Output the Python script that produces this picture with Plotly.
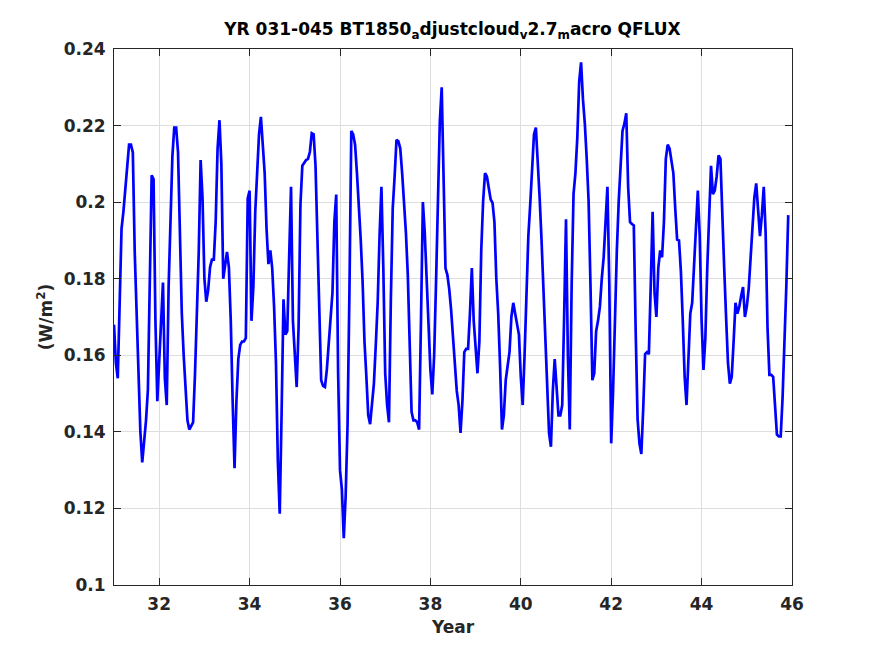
import numpy as np
import plotly.graph_objects as go

# QFLUX, 24 samples per year starting at year 31
start_year = 31.0
steps_per_year = 24
qflux = [
    0.168, 0.158, 0.154, 0.172, 0.193, 0.1975, 0.204, 0.2105, 0.215, 0.215,
    0.213, 0.187, 0.171, 0.155, 0.140, 0.132, 0.137, 0.143, 0.151, 0.180,
    0.207, 0.206, 0.169, 0.148, 0.159, 0.172, 0.179, 0.154, 0.147, 0.178,
    0.195, 0.212, 0.2195, 0.2195, 0.213, 0.191, 0.171, 0.160, 0.151, 0.143,
    0.1406, 0.1415, 0.1425, 0.155, 0.169, 0.187, 0.211, 0.201, 0.180, 0.174,
    0.177, 0.183, 0.185, 0.185, 0.195, 0.214, 0.2214, 0.210, 0.180, 0.184,
    0.187, 0.183, 0.169, 0.148, 0.1305, 0.148, 0.159, 0.1627, 0.1636, 0.1636,
    0.1645, 0.201, 0.203, 0.169, 0.178, 0.1975, 0.2085, 0.2177, 0.2223, 0.216,
    0.2076, 0.193, 0.1838, 0.1874, 0.1828, 0.1727, 0.158, 0.1324, 0.1186, 0.1452,
    0.1746, 0.1654, 0.1663, 0.1856, 0.204, 0.169, 0.160, 0.1517, 0.1672, 0.1994,
    0.2095, 0.2104, 0.211, 0.2113, 0.2131, 0.218, 0.2177, 0.2095, 0.1911, 0.1727,
    0.1535, 0.152, 0.1517, 0.1562, 0.1636, 0.170, 0.1764, 0.1948, 0.202, 0.1553,
    0.130, 0.125, 0.1122, 0.1232, 0.1416, 0.1764, 0.2186, 0.2177, 0.215, 0.2076,
    0.2003, 0.1902, 0.1792, 0.1636, 0.1544, 0.1443, 0.142, 0.148, 0.1526, 0.1627,
    0.1737, 0.1911, 0.204, 0.1828, 0.1553, 0.1471, 0.1425, 0.1746, 0.1984, 0.2067,
    0.2163, 0.2159, 0.214, 0.2076, 0.2003, 0.192, 0.181, 0.1617, 0.1452, 0.143,
    0.143, 0.1425, 0.1406, 0.169, 0.200, 0.192, 0.180, 0.169, 0.1562, 0.1498,
    0.160, 0.1792, 0.2003, 0.221, 0.2300, 0.2012, 0.1828, 0.181, 0.1773, 0.1718,
    0.1645, 0.158, 0.1507, 0.147, 0.1397, 0.148, 0.1608, 0.1617, 0.1617, 0.1709,
    0.1828, 0.169, 0.1627, 0.1553, 0.1636, 0.1874, 0.2003, 0.2076, 0.2067, 0.203,
    0.2007, 0.1998, 0.1948, 0.180, 0.1709, 0.1572, 0.1406, 0.1443, 0.1535, 0.1572,
    0.1608, 0.170, 0.1737, 0.1709, 0.1682, 0.1654, 0.1544, 0.147, 0.160, 0.1783,
    0.1911, 0.1994, 0.2104, 0.2177, 0.2195, 0.2113, 0.2012, 0.1902, 0.1783, 0.1672,
    0.1526, 0.1397, 0.1361, 0.1507, 0.159, 0.1517, 0.1443, 0.1443, 0.147, 0.170,
    0.1955, 0.160, 0.1406, 0.1783, 0.2021, 0.2076, 0.2168, 0.2315, 0.2365, 0.2269,
    0.2205, 0.2113, 0.2003, 0.1783, 0.1535, 0.1553, 0.1663, 0.169, 0.1727, 0.180,
    0.1856, 0.1948, 0.204, 0.1783, 0.137, 0.1507, 0.1727, 0.1874, 0.2003, 0.2095,
    0.2186, 0.2205, 0.2232, 0.204, 0.1948, 0.1943, 0.1939, 0.1663, 0.1434, 0.137,
    0.1342, 0.1461, 0.1603, 0.1608, 0.1603, 0.1783, 0.1975, 0.1764, 0.170, 0.1828,
    0.1874, 0.1856, 0.1948, 0.2113, 0.215, 0.214, 0.2113, 0.2076, 0.1984, 0.1902,
    0.190, 0.182, 0.169, 0.1544, 0.147, 0.160, 0.1709, 0.1737, 0.1838, 0.1948,
    0.203, 0.1911, 0.169, 0.1562, 0.1645, 0.1828, 0.1984, 0.2095, 0.2021, 0.203,
    0.2067, 0.2122, 0.2113, 0.1948, 0.1828, 0.170, 0.158, 0.1526, 0.1544, 0.1636,
    0.1737, 0.1709, 0.1727, 0.1755, 0.1778, 0.170, 0.1727, 0.1773, 0.1856, 0.1957,
    0.2012, 0.2049, 0.1984, 0.1911, 0.1966, 0.204, 0.192, 0.1672, 0.1549, 0.1549,
    0.1544, 0.1452, 0.1393, 0.1388, 0.1388, 0.1489, 0.1627, 0.1783, 0.1966,
]
years = start_year + np.arange(len(qflux)) / steps_per_year

xticks = [32, 34, 36, 38, 40, 42, 44, 46]
yticks = [0.1, 0.12, 0.14, 0.16, 0.18, 0.2, 0.22, 0.24]
yticklabels = ["0.1", "0.12", "0.14", "0.16", "0.18", "0.2", "0.22", "0.24"]

axis_col = "#262626"
grid_col = "#dedede"
font = "DejaVu Sans"

# page is drawn with an 8px body margin, so the figure is a bit smaller
W, H = 867, 648

fig = go.Figure()
fig.add_trace(go.Scatter(x=years, y=qflux, mode="lines",
                         line=dict(color="#0000ff", width=2.7), showlegend=False))

fig.update_layout(
    width=W, height=H,
    margin=dict(l=106, r=83, t=41, b=71),
    paper_bgcolor="white", plot_bgcolor="white",
    font=dict(family=font, size=17, color=axis_col),
    title=dict(text="<b>YR 031-045 BT1850<sub>a</sub>djustcloud<sub>v</sub>2.7<sub>m</sub>acro QFLUX</b>",
               x=444.5 / W, xanchor="center", y=1 - 21 / H, yanchor="middle",
               font=dict(family=font, size=17, color="black")),
)
fig.update_xaxes(range=[31, 46], tickvals=xticks, ticktext=["<b>%d</b>" % t for t in xticks],
                 ticks="inside", ticklen=7, tickcolor=axis_col, showline=True, linecolor=axis_col,
                 linewidth=1, mirror="ticks", showgrid=True, gridcolor=grid_col, zeroline=False,
                 ticklabelstandoff=4,
                 tickfont=dict(family=font, size=17, color=axis_col),
                 title=dict(text="<b>Year</b>", font=dict(family=font, size=17, color=axis_col), standoff=7))
fig.update_yaxes(range=[0.1, 0.24], tickvals=yticks, ticktext=["<b>%s</b>" % t for t in yticklabels],
                 ticks="inside", ticklen=7, tickcolor=axis_col, showline=True, linecolor=axis_col,
                 linewidth=1, mirror="ticks", showgrid=True, gridcolor=grid_col, zeroline=False,
                 ticklabelstandoff=4,
                 tickfont=dict(family=font, size=17, color=axis_col),
                 title=dict(text="<b>(W/m<sup>2</sup>)</b>", font=dict(family=font, size=17, color=axis_col), standoff=6))

fig.write_html("out.html")
